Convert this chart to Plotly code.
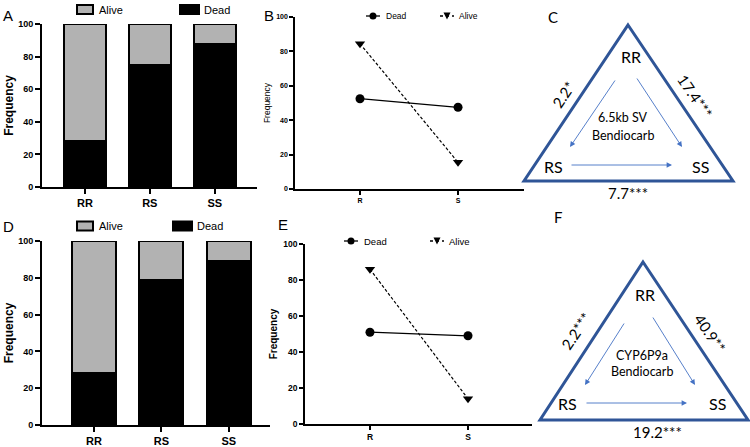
import plotly.graph_objects as go

W, H = 750, 447

# ---------------- data ----------------
genotypes = ["RR", "RS", "SS"]
dead_A = [28, 75, 88]
alive_A = [72, 25, 12]
dead_D = [28, 79, 89]
alive_D = [72, 21, 11]

alleles = ["R", "S"]
dead_B = [52.5, 47.5]
alive_B = [84.5, 15.5]
dead_E = [51, 49]
alive_E = [86, 14]

yticks = [0, 20, 40, 60, 80, 100]

tri_C = {"title": ["6.5kb SV", "Bendiocarb"], "left": "2.2*", "right": "17.4***", "bottom": "7.7***"}
tri_F = {"title": ["CYP6P9a", "Bendiocarb"], "left": "2.2***", "right": "40.9**", "bottom": "19.2***"}

GRAY = "#b2b2b2"
TRI = "#2F5597"
ARR = "#4472C4"
ARIAL = "Liberation Sans, Arial, sans-serif"
CAL = "Lato, Open Sans, sans-serif"


def dx(a, b):
    return [a / W, b / W]


def dy(top, bottom):
    return [1 - bottom / H, 1 - top / H]


fig = go.Figure()

# ---------------- bar panels ----------------
def bar_panel(n, dead, alive, xd, yd, xr):
    xa, ya = f"x{n}", f"y{n}"
    fig.add_trace(go.Bar(x=genotypes, y=dead, name="Dead", marker=dict(color="black", line=dict(color="black", width=2)),
                         width=0.65, xaxis=xa, yaxis=ya, showlegend=False))
    fig.add_trace(go.Bar(x=genotypes, y=alive, name="Alive", marker=dict(color=GRAY, line=dict(color="black", width=2)),
                         width=0.65, xaxis=xa, yaxis=ya, showlegend=False))
    fig.layout[f"xaxis{n}"] = dict(domain=xd, anchor=ya, range=xr, showline=True, linewidth=2, linecolor="black",
                                   ticks="outside", ticklen=5, tickwidth=2, tickcolor="black", automargin=False,
                                   tickfont=dict(family=ARIAL, size=11, color="black", weight="bold"),
                                   showgrid=False, zeroline=False, fixedrange=True)
    fig.layout[f"yaxis{n}"] = dict(domain=yd, anchor=xa, range=[0, 100], tickvals=yticks, showline=True, linewidth=2,
                                   linecolor="black", ticks="outside", ticklen=5, tickwidth=2, tickcolor="black",
                                   automargin=False,
                                   tickfont=dict(family=ARIAL, size=9, color="black", weight="bold"),
                                   title=dict(text="Frequency", font=dict(family=ARIAL, size=12, color="black", weight="bold"), standoff=2),
                                   showgrid=False, zeroline=False, fixedrange=True)


bar_panel(1, dead_A, alive_A, dx(42, 257), dy(24, 187), [-0.66, 2.65])
bar_panel(4, dead_D, alive_D, dx(42, 270), dy(241, 425), [-0.77, 2.61])

# ---------------- line panels ----------------
def line_panel(n, dead, alive, xd, yd, xr, tsize, lsize, tbold):
    xa, ya = f"x{n}", f"y{n}"
    fig.add_trace(go.Scatter(x=alleles, y=dead, mode="lines+markers", name="Dead",
                             line=dict(color="black", width=1.3), marker=dict(symbol="circle", size=9, color="black"),
                             xaxis=xa, yaxis=ya, showlegend=False))
    fig.add_trace(go.Scatter(x=alleles, y=alive, mode="lines+markers", name="Alive",
                             line=dict(color="black", width=1.2, dash="3px,2px"),
                             marker=dict(symbol="triangle-down", size=9, color="black"),
                             xaxis=xa, yaxis=ya, showlegend=False))
    fig.layout[f"xaxis{n}"] = dict(domain=xd, anchor=ya, range=xr, showline=True, linewidth=1.5, linecolor="black",
                                   ticks="outside", ticklen=4, tickwidth=1.5, tickcolor="black", automargin=False,
                                   tickfont=dict(family=ARIAL, size=tsize, color="black", weight="bold"),
                                   showgrid=False, zeroline=False, fixedrange=True)
    fig.layout[f"yaxis{n}"] = dict(domain=yd, anchor=xa, range=[0, 100], tickvals=yticks, showline=True, linewidth=1.5,
                                   linecolor="black", ticks="outside", ticklen=4, tickwidth=1.5, tickcolor="black",
                                   automargin=False,
                                   tickfont=dict(family=ARIAL, size=tsize, color="black", weight="bold"),
                                   title=dict(text="Frequency", font=dict(family=ARIAL, size=lsize, color="black",
                                                                          weight="bold" if tbold else "normal"), standoff=4),
                                   showgrid=False, zeroline=False, fixedrange=True)


line_panel(2, dead_B, alive_B, dx(295, 524), dy(17, 189), [-0.663, 1.673], 7, 8.5, False)
line_panel(5, dead_E, alive_E, dx(305, 532), dy(244, 424), [-0.663, 1.653], 8.5, 10, True)

# ---------------- overlay (pixel) axes ----------------
fig.add_trace(go.Scatter(x=[], y=[], xaxis="x7", yaxis="y7", showlegend=False))
fig.layout["xaxis7"] = dict(domain=[0, 1], range=[0, W], visible=False, anchor="y7", fixedrange=True, automargin=False)
fig.layout["yaxis7"] = dict(domain=[0, 1], range=[H, 0], visible=False, anchor="x7", fixedrange=True, automargin=False)

shapes = []
ann = []


def txt(x, y, s, size, family=ARIAL, angle=0, bold=False, xanchor="center"):
    ann.append(dict(x=x, y=y, xref="x7", yref="y7", text=s, showarrow=False, textangle=angle, xanchor=xanchor,
                    yanchor="middle", font=dict(family=family, size=size, color="black", weight="bold" if bold else "normal")))


# panel letters
txt(8, 15, "A", 15, ARIAL)
txt(269, 15, "B", 15, ARIAL)
txt(553, 17, "C", 15, CAL)
txt(8, 226, "D", 15, ARIAL)
txt(283, 224, "E", 15, ARIAL)
txt(558, 217, "F", 15, CAL)

# bar legends
def bar_legend(y, ax0, dx0):
    shapes.append(dict(type="rect", xref="x7", yref="y7", x0=ax0, x1=ax0 + 16, y0=y - 4.5, y1=y + 4.5,
                       fillcolor=GRAY, line=dict(color="black", width=2)))
    txt(ax0 + 20, y, "Alive", 11, xanchor="left")
    shapes.append(dict(type="rect", xref="x7", yref="y7", x0=dx0, x1=dx0 + 19, y0=y - 4.5, y1=y + 4.5,
                       fillcolor="black", line=dict(color="black", width=2)))
    txt(dx0 + 22, y, "Dead", 11, xanchor="left")


bar_legend(9.5, 77, 180)
bar_legend(226, 77, 173)

# line legends
def line_legend(y, dcx, acx, size, ms):
    shapes.append(dict(type="line", xref="x7", yref="y7", x0=dcx - 7, x1=dcx + 7, y0=y, y1=y, line=dict(color="black", width=1.3)))
    shapes.append(dict(type="circle", xref="x7", yref="y7", x0=dcx - ms, x1=dcx + ms, y0=y - ms, y1=y + ms,
                       fillcolor="black", line=dict(color="black", width=0)))
    txt(dcx + 11, y, "Dead", size, xanchor="left")
    shapes.append(dict(type="line", xref="x7", yref="y7", x0=acx - 7, x1=acx + 7, y0=y, y1=y,
                       line=dict(color="black", width=1.3, dash="dot")))
    shapes.append(dict(type="path", xref="x7", yref="y7",
                       path=f"M {acx - ms} {y - ms} L {acx + ms} {y - ms} L {acx} {y + ms} Z",
                       fillcolor="black", line=dict(color="black", width=0)))
    txt(acx + 10, y, "Alive", size, xanchor="left")


line_legend(16, 373, 447, 8.5, 3.5)
line_legend(241, 351, 437, 9.5, 3.5)

# ---------------- triangles ----------------
def triangle(apex, bl, br, info, pos):
    ax_, ay_ = apex
    shapes.append(dict(type="path", xref="x7", yref="y7",
                       path=f"M {ax_} {ay_} L {br[0]} {br[1]} L {bl[0]} {bl[1]} Z",
                       line=dict(color=TRI, width=3), fillcolor="rgba(0,0,0,0)"))
    txt(*pos["RR"], "RR", 16, CAL)
    txt(*pos["RS"], "RS", 16, CAL)
    txt(*pos["SS"], "SS", 16, CAL)
    txt(*pos["t1"], info["title"][0], 12.5, CAL)
    txt(*pos["t2"], info["title"][1], 12.5, CAL)
    txt(*pos["left"], info["left"], 15, CAL, angle=-56)
    txt(*pos["right"], info["right"], 15, CAL, angle=56)
    txt(*pos["bottom"], info["bottom"], 15, CAL)
    for (t, h) in pos["arrows"]:
        ann.append(dict(x=h[0], y=h[1], ax=t[0], ay=t[1], xref="x7", yref="y7", axref="x7", ayref="y7",
                        text="", showarrow=True, arrowhead=2, arrowsize=1.2, arrowwidth=0.9, arrowcolor=ARR))


triangle((628, 25), (524, 181), (733, 181), tri_C,
         dict(RR=(631, 56), RS=(553, 166), SS=(700, 166), t1=(623, 117), t2=(623, 135),
              left=(563, 95), right=(695, 96), bottom=(628, 193),
              arrows=[((616, 79), (570, 147)), ((636, 77), (682, 147)), ((570, 165), (672, 165))]))
triangle((643, 262), (540, 420), (748, 420), tri_F,
         dict(RR=(645, 294), RS=(567, 403), SS=(717, 403), t1=(642, 355), t2=(642, 371),
              left=(576, 331), right=(710, 333), bottom=(657, 432),
              arrows=[((625, 322), (585, 385)), ((652, 316), (695, 385)), ((585, 403), (687, 403))]))

fig.update_layout(width=W, height=H, margin=dict(l=0, r=0, t=0, b=0, autoexpand=False), paper_bgcolor="white",
                  plot_bgcolor="rgba(0,0,0,0)", barmode="stack", bargap=0.35, shapes=shapes, annotations=ann,
                  showlegend=False)

fig.write_html("out.html", config={"displayModeBar": False},
               post_script="document.body.style.margin='0px';document.body.style.padding='0px';")
